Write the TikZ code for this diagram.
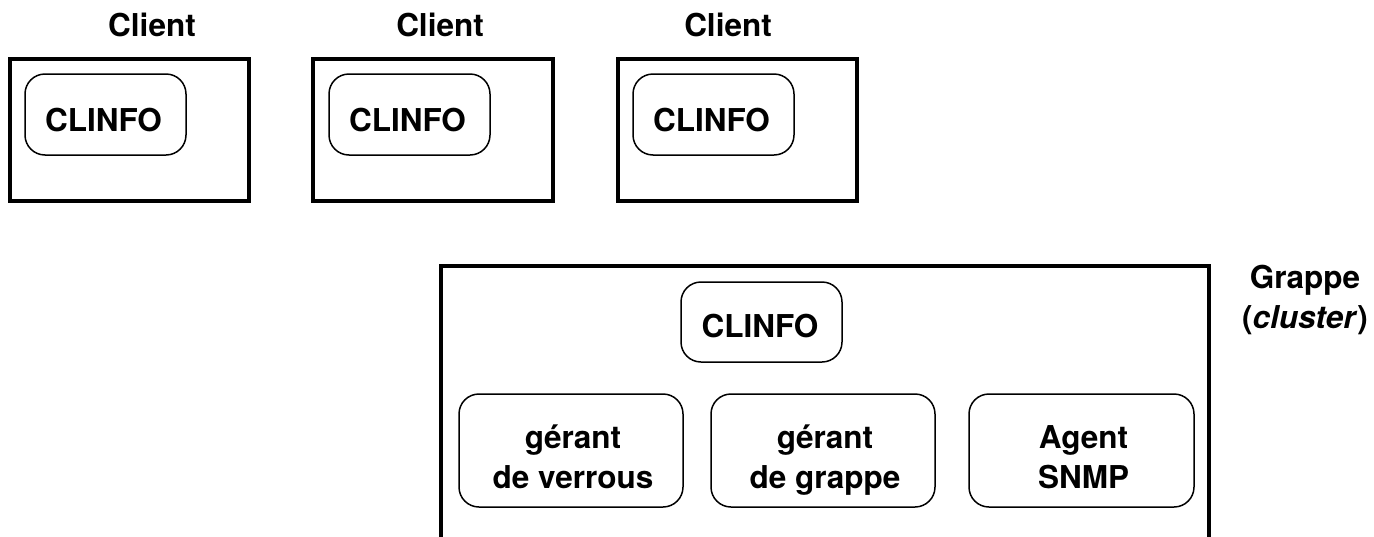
\documentclass[tikz,border=0pt]{standalone}
\usepackage{fontspec}
\setmainfont{TeX Gyre Heros}
\begin{document}
\begin{tikzpicture}[x=1pt,y=-1pt,
  outer/.style={draw, line width=4pt, inner sep=0pt},
  inner/.style={draw, line width=1.5pt, rounded corners=20pt, inner sep=0pt},
  lbl/.style={anchor=base, font=\fontsize{31.5}{40}\selectfont\bfseries, inner sep=0pt}]
\useasboundingbox (0,0) rectangle (1374,536);
\clip (0,0) rectangle (1374,536);
% client labels
\node[lbl] (cl1) at (152,36) {Client};
\node[lbl] (cl2) at (440,36) {Client};
\node[lbl] (cl3) at (728,36) {Client};
% client boxes
\node[outer, minimum width=239pt, minimum height=142pt] (client1) at (129,130) {};
\node[outer, minimum width=240pt, minimum height=142pt] (client2) at (433,130) {};
\node[outer, minimum width=239pt, minimum height=142pt] (client3) at (737.5,130) {};
% inner CLINFO boxes
\node[inner, minimum width=161pt, minimum height=81pt] (ci1) at (105.5,114.5) {};
\node[inner, minimum width=161pt, minimum height=81pt] (ci2) at (409.5,114.5) {};
\node[inner, minimum width=161pt, minimum height=81pt] (ci3) at (713.5,114.5) {};
\node[lbl] (ct1) at (103.5,131) {CLINFO};
\node[lbl] (ct2) at (407.5,131) {CLINFO};
\node[lbl] (ct3) at (711.5,131) {CLINFO};
% cluster
\node[outer, minimum width=768pt, minimum height=300pt] (grappe) at (825,416) {};
\node[lbl] (gr1) at (1305,288) {Grappe};
\node[lbl] (gr2) at (1305,328) {(\textit{cluster})};
\node[inner, minimum width=161pt, minimum height=80pt] (gc) at (761.5,322) {};
\node[lbl] (gct) at (760,337) {CLINFO};
\node[inner, minimum width=224pt, minimum height=113pt] (gv) at (571,450.5) {};
\node[lbl] (gv1) at (573,448) {gérant};
\node[lbl] (gv2) at (573,488) {de verrous};
\node[inner, minimum width=224pt, minimum height=113pt] (gg) at (823,450.5) {};
\node[lbl] (gg1) at (825,448) {gérant};
\node[lbl] (gg2) at (825,488) {de grappe};
\node[inner, minimum width=225pt, minimum height=113pt] (ag) at (1081.5,450.5) {};
\node[lbl] (ag1) at (1083.5,448) {Agent};
\node[lbl] (ag2) at (1083.5,488) {SNMP};
\end{tikzpicture}
\end{document}
